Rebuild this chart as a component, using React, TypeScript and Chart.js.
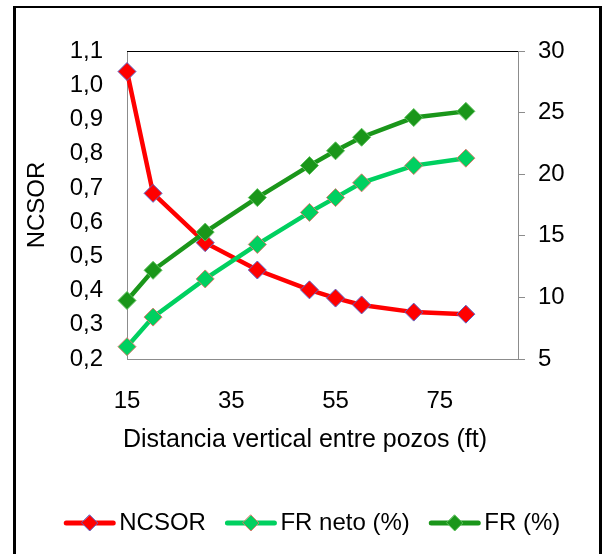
import React, { useEffect, useRef } from 'react';
import { Chart, registerables } from 'chart.js';

Chart.register(...registerables);

const distances = [15, 20, 30, 40, 50, 55, 60, 70, 80];
const ncsor = [1.04, 0.684, 0.54, 0.46, 0.402, 0.378, 0.358, 0.337, 0.331];
const frNeto = [6.0, 8.4, 11.5, 14.3, 16.9, 18.1, 19.3, 20.7, 21.3];
const fr = [9.75, 12.2, 15.3, 18.1, 20.7, 21.9, 23.0, 24.6, 25.1];
const xTicks = [15, 35, 55, 75];
const seriesNames = ['NCSOR', 'FR neto (%)', 'FR (%)'];
const xTitle = 'Distancia vertical entre pozos (ft)';
const yLeftTitle = 'NCSOR';

const FONT = '"Liberation Sans", Arial, sans-serif';
const RED = '#FF0000';
const LIGHT = '#00D060';
const DARK = '#1A961A';
const AXIS_GRAY = '#8C8C8C';

const toXY = (vals: number[]) => distances.map((x, i) => ({ x, y: vals[i] }));

const decorPlugin = {
  id: 'decor',
  afterDraw(chart: any) {
    const { ctx, chartArea } = chart;
    ctx.save();
    // top frame line of plot area
    ctx.strokeStyle = '#000';
    ctx.lineWidth = 1;
    ctx.beginPath();
    ctx.moveTo(chartArea.left, chartArea.top + 0.5);
    ctx.lineTo(chartArea.right, chartArea.top + 0.5);
    ctx.stroke();
    // x axis title, centred on the whole chart like the original
    ctx.font = `25px ${FONT}`;
    ctx.fillStyle = '#000';
    ctx.textAlign = 'center';
    ctx.textBaseline = 'middle';
    ctx.fillText(xTitle, 305, 440);
    ctx.restore();
  },
};

const legendPlugin = {
  id: 'lineLegend',
  afterDraw(chart: any) {
    const ctx = chart.ctx;
    ctx.save();
    ctx.font = `24px ${FONT}`;
    ctx.textBaseline = 'middle';
    ctx.textAlign = 'left';
    const metas = chart.data.datasets.map((ds: any) => ({
      label: ds.label,
      color: ds.borderColor,
      fill: ds.pointBackgroundColor,
      stroke: ds.pointBorderColor,
      w: ctx.measureText(ds.label).width,
    }));
    const lineLen = 52;
    const gapText = 3.5;
    const gapItem = 19;
    let total = 0;
    metas.forEach((m: any, i: number) => {
      total += lineLen + gapText + m.w + (i > 0 ? gapItem : 0);
    });
    let x = 312 - total / 2;
    const y = 523;
    metas.forEach((m: any) => {
      ctx.strokeStyle = m.color;
      ctx.lineWidth = 5;
      ctx.lineCap = 'round';
      ctx.beginPath();
      ctx.moveTo(x + 2.5, y);
      ctx.lineTo(x + lineLen - 2.5, y);
      ctx.stroke();
      const cx = x + lineLen / 2;
      const r = 8;
      ctx.fillStyle = m.fill;
      ctx.strokeStyle = m.stroke;
      ctx.lineWidth = 1;
      ctx.beginPath();
      ctx.moveTo(cx, y - r);
      ctx.lineTo(cx + r, y);
      ctx.lineTo(cx, y + r);
      ctx.lineTo(cx - r, y);
      ctx.closePath();
      ctx.fill();
      ctx.stroke();
      ctx.fillStyle = '#000';
      ctx.fillText(m.label, x + lineLen + gapText, y);
      x += lineLen + gapText + m.w + gapItem;
    });
    ctx.restore();
  },
};

export default function App() {
  const ref = useRef<HTMLCanvasElement | null>(null);

  useEffect(() => {
    if (!ref.current) return;
    const common = {
      type: 'line',
      borderWidth: 4.5,
      pointStyle: 'rectRot',
      pointRadius: 9,
      pointBorderWidth: 1,
      tension: 0,
      clip: false,
      showLine: true,
    };
    const chart = new Chart(ref.current, {
      type: 'line',
      data: {
        datasets: [
          {
            ...common,
            label: seriesNames[0],
            data: toXY(ncsor),
            yAxisID: 'yL',
            borderColor: RED,
            backgroundColor: RED,
            pointBackgroundColor: RED,
            pointBorderColor: '#5A64C8',
            order: 3,
          },
          {
            ...common,
            label: seriesNames[1],
            data: toXY(frNeto),
            yAxisID: 'yR',
            borderColor: LIGHT,
            backgroundColor: LIGHT,
            pointBackgroundColor: LIGHT,
            pointBorderColor: '#D87A6A',
            order: 2,
          },
          {
            ...common,
            label: seriesNames[2],
            data: toXY(fr),
            yAxisID: 'yR',
            borderColor: DARK,
            backgroundColor: DARK,
            pointBackgroundColor: DARK,
            pointBorderColor: '#5CC05C',
            order: 1,
          },
        ],
      } as any,
      options: {
        animation: false,
        responsive: false,
        maintainAspectRatio: false,
        layout: { padding: { top: 51, left: 0, right: 0, bottom: 0 } },
        plugins: {
          legend: { display: false },
          tooltip: { enabled: false },
        },
        scales: {
          x: {
            type: 'linear',
            min: 15,
            max: 90,
            afterBuildTicks: (scale: any) => {
              scale.ticks = xTicks.map((v) => ({ value: v }));
            },
            afterFit: (scale: any) => {
              scale.height = 554 - 359;
            },
            grid: { display: false, drawTicks: false },
            border: { display: true, color: AXIS_GRAY, width: 1 },
            ticks: {
              padding: 28,
              color: '#000',
              font: { family: FONT, size: 24 },
              maxRotation: 0,
              autoSkip: false,
              callback: (v: any) => String(v),
            },
            title: { display: false },
          },
          yL: {
            type: 'linear',
            position: 'left',
            min: 0.2,
            max: 1.1,
            afterFit: (scale: any) => {
              scale.width = 127;
            },
            grid: { display: false, drawTicks: false },
            border: { display: true, color: AXIS_GRAY, width: 1 },
            ticks: {
              stepSize: 0.1,
              padding: 24,
              color: '#000',
              font: { family: FONT, size: 24 },
              callback: (v: any) => Number(v).toFixed(1).replace('.', ','),
            },
            title: {
              display: true,
              text: yLeftTitle,
              color: '#000',
              font: { family: FONT, size: 24 },
              padding: { top: 23, bottom: 0 },
            },
          },
          yR: {
            type: 'linear',
            position: 'right',
            min: 5,
            max: 30,
            afterFit: (scale: any) => {
              scale.width = 604 - 518;
            },
            grid: {
              display: true,
              drawOnChartArea: false,
              drawTicks: true,
              tickLength: 7,
              color: AXIS_GRAY,
            },
            border: { display: true, color: AXIS_GRAY, width: 1 },
            ticks: {
              stepSize: 5,
              padding: 13,
              color: '#000',
              font: { family: FONT, size: 24 },
            },
          },
        },
      } as any,
      plugins: [decorPlugin, legendPlugin],
    });
    return () => chart.destroy();
  }, []);

  return (
    <div style={{ position: 'absolute', left: 0, top: 0, width: 604, height: 554, overflow: 'hidden' }}>
      <div
        style={{
          position: 'absolute',
          left: 13,
          top: 6,
          width: 583,
          height: 546,
          borderLeft: '3px solid #000',
          borderTop: '2px solid #000',
          borderRight: '3px solid #000',
        }}
      />
      <canvas
        ref={ref}
        width={604}
        height={554}
        style={{ position: 'absolute', left: 0, top: 0, width: 604, height: 554 }}
      />
    </div>
  );
}
